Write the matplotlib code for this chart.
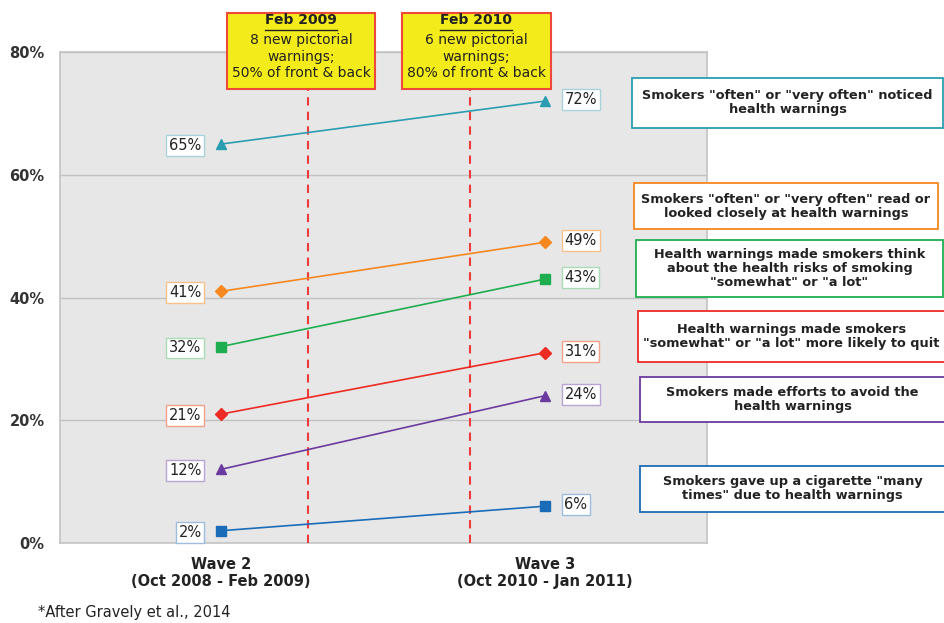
import matplotlib.pyplot as plt
from matplotlib.patches import Rectangle
from matplotlib.lines import Line2D

plt.rcParams['font.family'] = ['DejaVu Sans']

# Survey waves and the share of smokers for each measure
waves = ['Wave 2\n(Oct 2008 - Feb 2009)', 'Wave 3\n(Oct 2010 - Jan 2011)']
noticed = [65, 72]
read_closely = [41, 49]
think_risks = [32, 43]
more_likely_quit = [21, 31]
avoid = [12, 24]
gave_up = [2, 6]

series = [
    (noticed, '#2a9db0', '^', '#a9d3dc',
     'Smokers "often" or "very often" noticed\nhealth warnings'),
    (read_closely, '#f7871f', 'D', '#f9c08a',
     'Smokers "often" or "very often" read or\nlooked closely at health warnings'),
    (think_risks, '#1fae4f', 's', '#a8dcb5',
     'Health warnings made smokers think\nabout the health risks of smoking\n"somewhat" or "a lot"'),
    (more_likely_quit, '#ee2a24', 'D', '#f4a08a',
     'Health warnings made smokers\n"somewhat" or "a lot" more likely to quit'),
    (avoid, '#6b3a9e', '^', '#b9a3d3',
     'Smokers made efforts to avoid the\nhealth warnings'),
    (gave_up, '#1b6cb8', 's', '#9dbde0',
     'Smokers gave up a cigarette "many\ntimes" due to health warnings'),
]

# Policy changes between the waves
events = [0.27, 0.77]
event_titles = ['Feb 2009', 'Feb 2010']
event_texts = ['8 new pictorial\nwarnings;\n50% of front & back',
               '6 new pictorial\nwarnings;\n80% of front & back']

W, H = 945, 623
fig = plt.figure(figsize=(W / 100, H / 100), dpi=100)
ax = fig.add_axes([60 / W, 80 / H, 647 / W, 491 / H])
ax.set_facecolor('#e7e7e7')


def px(x, y):
    return x / W, 1 - y / H


x = [0, 1]
for values, color, marker, light, label in series:
    ms = 6 if marker == 'D' else 7
    ax.plot(x, values, color=color, lw=1.2, marker=marker, ms=ms, zorder=4)
    ax.annotate(f'{values[0]}%', (x[0], values[0]), xytext=(-14, -1),
                textcoords='offset points', ha='right', va='center',
                fontsize=10.5, color='#222222', zorder=5,
                bbox=dict(boxstyle='square,pad=0.2', fc='white', ec=light, lw=1))
    ax.annotate(f'{values[1]}%', (x[1], values[1]), xytext=(14, 1),
                textcoords='offset points', ha='left', va='center',
                fontsize=10.5, color='#222222', zorder=5,
                bbox=dict(boxstyle='square,pad=0.2', fc='white', ec=light, lw=1))

ax.set_xlim(-0.497, 1.5)
ax.set_ylim(0, 80)
ax.set_yticks([0, 20, 40, 60, 80])
ax.set_yticklabels(['0%', '20%', '40%', '60%', '80%'], fontweight='bold',
                   fontsize=10.5, color='#333333')
ax.set_xticks(x)
ax.set_xticklabels(waves, fontweight='bold', fontsize=10.5, color='#222222',
                   linespacing=1.2)
ax.tick_params(axis='both', length=0)
ax.tick_params(axis='y', pad=11)
ax.tick_params(axis='x', pad=10)
ax.grid(axis='y', color='#c2c2c2', lw=1)
ax.set_axisbelow(True)
for s in ax.spines.values():
    s.set_color('#c4c4c4')
    s.set_linewidth(1.2)

# Dashed event markers running up into the yellow callouts
box_centres = [301, 476.5]
for ex, cx, title, txt in zip(events, box_centres, event_titles, event_texts):
    ax.plot([ex, ex], [0, 74], color='#ee3a3a', lw=1.5, ls=(0, (4, 3)),
            clip_on=False, zorder=3)
    x0, y0 = px(cx - 74, 89)
    rect = Rectangle((x0, y0), 148 / W, 76 / H, transform=fig.transFigure,
                     fc='#f4ec1a', ec='#ee4a3a', lw=1.5, zorder=6)
    fig.patches.append(rect)
    fig.text(*px(cx, 20), title, ha='center', va='center', fontsize=10,
             fontweight='bold', color='#222222', zorder=7)
    fig.add_artist(Line2D([(cx - 36) / W, (cx + 36) / W], [1 - 30 / H] * 2,
                          color='#222222', lw=1, zorder=7))
    fig.text(*px(cx, 56.5), txt, ha='center', va='center', fontsize=10,
             color='#222222', linespacing=1.22, zorder=7)

# Descriptions of each measure, boxed in the series colour
boxes = [(632, 78, 311, 50), (634, 183, 304, 46), (636, 240, 307, 57),
         (638, 311, 307, 51), (640, 377, 305, 45), (640, 466, 305, 46)]
for (bx, by, bw, bh), (values, color, marker, light, label) in zip(boxes, series):
    x0, y0 = px(bx, by + bh)
    fig.patches.append(Rectangle((x0, y0), bw / W, bh / H,
                                 transform=fig.transFigure, fc='white',
                                 ec=color, lw=1.3, zorder=6))
    fig.text(*px(bx + bw / 2, by + bh / 2), label, ha='center', va='center',
             fontsize=9.3, fontweight='bold', color='#222222',
             linespacing=1.1, zorder=7)

fig.text(*px(38, 613), '*After Gravely et al., 2014', ha='left', va='center',
         fontsize=10.5, color='#222222')

fig.savefig('out.png', dpi=100)
